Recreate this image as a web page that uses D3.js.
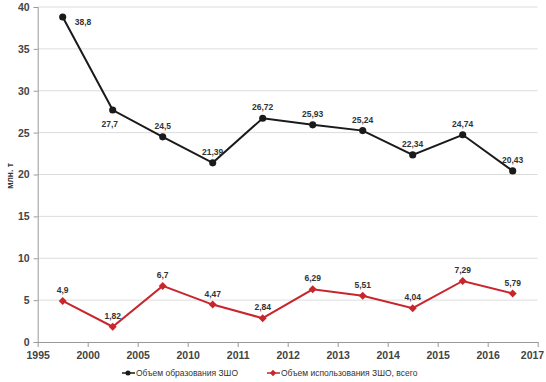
<!DOCTYPE html>
<html>
<head>
<meta charset="utf-8">
<script src="https://cdn.jsdelivr.net/npm/d3@7"></script>
<style>
body { margin: 0; background: #fff; }
svg { display: block; font-family: "Liberation Sans", Arial, sans-serif; }
</style>
</head>
<body>
<svg></svg>
<script>
let tickLabels = ["1995", "2000", "2005", "2010", "2011", "2012", "2013", "2014", "2015", "2016", "2017"]
let formation = [38.8, 27.7, 24.5, 21.39, 26.72, 25.93, 25.24, 22.34, 24.74, 20.43]
let usage = [4.9, 1.82, 6.7, 4.47, 2.84, 6.29, 5.51, 4.04, 7.29, 5.79]
let seriesNames = ["Объем образования ЗШО", "Объем использования ЗШО, всего"]
let yTicks = [0, 5, 10, 15, 20, 25, 30, 35, 40]

let width = 546
let height = 382
let plotLeft = 37.7
let plotRight = 537.7
let plotTop = 7
let plotBottom = 342

let svg = d3.select('svg').attr("width", width).attr("height", height)

// tick positions at the boundaries, points in between
let tickScale = d3.scalePoint().domain(tickLabels).range([plotLeft, plotRight])
let xScale = d3.scaleLinear().domain([0, formation.length]).range([plotLeft, plotRight])
let yScale = d3.scaleLinear().domain([0, 40]).range([plotBottom, plotTop])

// grid
svg.append("g").selectAll("line")
    .data(yTicks.filter(d => d > 0))
    .enter().append("line")
    .attr("x1", plotLeft).attr("x2", plotRight)
    .attr("y1", d => yScale(d)).attr("y2", d => yScale(d))
    .attr("stroke", "#dcdcdc").attr("stroke-width", 1)

// y axis
let yAxis = d3.axisLeft(yScale).tickValues(yTicks).tickSize(4).tickPadding(4)
let gy = svg.append("g").attr("transform", "translate(" + plotLeft + ",0)").call(yAxis)
gy.select(".domain").attr("stroke", "#999")
gy.selectAll(".tick line").attr("stroke", "#999")
gy.selectAll("text").attr("font-size", 10.5).attr("font-weight", "bold").attr("fill", "#444")

// x axis
let xAxis = d3.axisBottom(tickScale).tickSize(5).tickSizeOuter(0).tickPadding(5)
let gx = svg.append("g").attr("transform", "translate(0," + plotBottom + ")").call(xAxis)
gx.select(".domain").attr("stroke", "#999")
gx.selectAll(".tick line").attr("stroke", "#999")
gx.selectAll("text").attr("font-size", 10.5).attr("font-weight", "bold").attr("fill", "#444")
gx.selectAll("text").filter(d => d == "2017").attr("text-anchor", "end").attr("dx", 6)

// y title
svg.append("text")
    .attr("transform", "translate(13,176) rotate(-90)")
    .attr("text-anchor", "middle")
    .attr("font-size", 8.5).attr("font-weight", "bold").attr("fill", "#333")
    .text("млн. т")

let line = d3.line().x((d, i) => xScale(i + 0.5)).y(d => yScale(d))

let drawSeries = (values, color, symbol, rot, labelPos) => {
    svg.append("path").datum(values)
        .attr("d", line)
        .attr("fill", "none").attr("stroke", color).attr("stroke-width", 2)
    svg.append("g").selectAll("path")
        .data(values).enter().append("path")
        .attr("d", d3.symbol().type(symbol).size(symbol == d3.symbolCircle ? 40 : 32))
        .attr("transform", (d, i) => "translate(" + xScale(i + 0.5) + "," + yScale(d) + ") rotate(" + rot + ")")
        .attr("fill", color)
    svg.append("g").selectAll("text")
        .data(values).enter().append("text")
        .attr("x", (d, i) => xScale(i + 0.5) + labelPos(i)[0])
        .attr("y", (d, i) => yScale(d) + labelPos(i)[1])
        .attr("text-anchor", (d, i) => labelPos(i)[2] || "middle")
        .attr("font-size", 8.5).attr("font-weight", "bold").attr("fill", "#333")
        .text(d => String(d).replace(".", ","))
}

drawSeries(formation, "#1a1a1a", d3.symbolCircle, 0, i => {
    if (i == 0) return [12, 8, "start"]
    if (i == 1) return [-3, 17]
    return [0, -8]
})
drawSeries(usage, "#c8262d", d3.symbolSquare, 45, i => [0, -8])

// legend
let legendItems = [
    {name: seriesNames[0], color: "#1a1a1a", symbol: d3.symbolCircle, rot: 0, x: 122},
    {name: seriesNames[1], color: "#c8262d", symbol: d3.symbolSquare, rot: 45, x: 267}
]
let lg = svg.append("g").selectAll("g").data(legendItems).enter().append("g")
    .attr("transform", d => "translate(" + d.x + ",373)")
lg.append("line").attr("x1", 0).attr("x2", 13).attr("stroke", d => d.color).attr("stroke-width", 1.5)
lg.append("path").attr("d", d => d3.symbol().type(d.symbol).size(20)()).attr("transform", d => "translate(6,0) rotate(" + d.rot + ")").attr("fill", d => d.color)
lg.append("text").attr("x", 14).attr("y", 3).attr("font-size", 8.5).attr("fill", "#333").text(d => d.name)
</script>
</body>
</html>
